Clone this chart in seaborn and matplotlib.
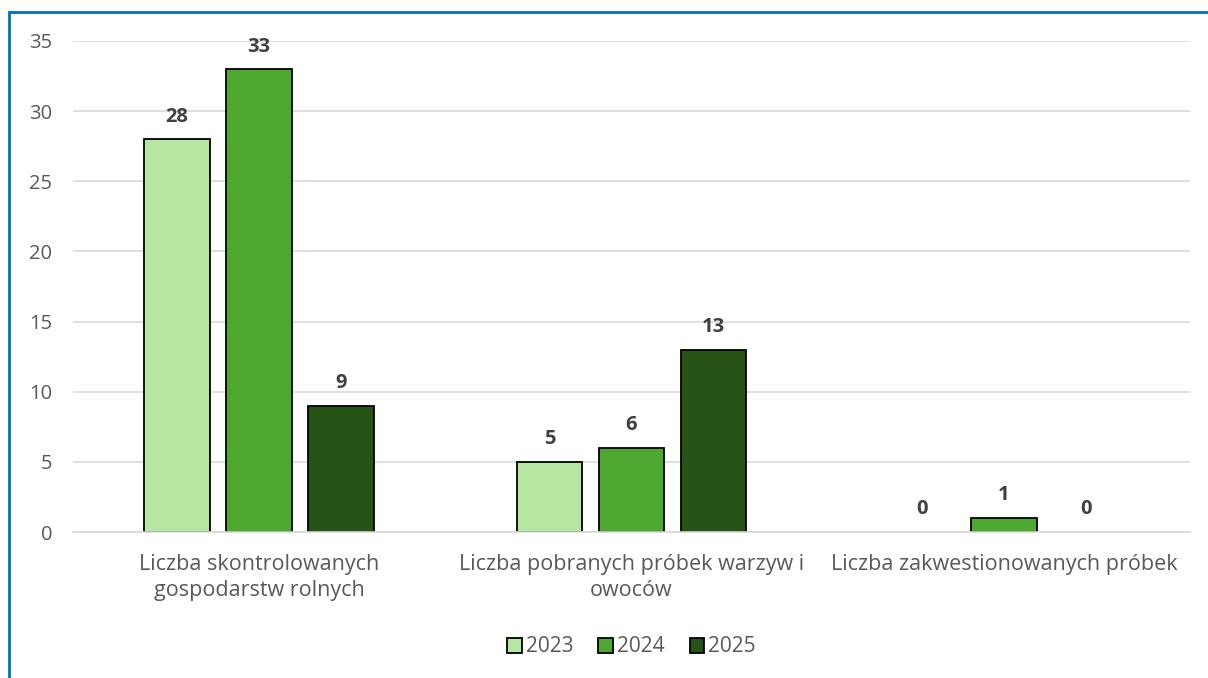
import pandas as pd
import matplotlib.pyplot as plt
import seaborn as sns
from matplotlib.patches import Rectangle

# dane
categories = ['Liczba skontrolowanych\ngospodarstw rolnych',
              'Liczba pobranych próbek warzyw i\nowoców',
              'Liczba zakwestionowanych próbek']
years = ['2023', '2024', '2025']
values_2023 = [28, 5, 0]
values_2024 = [33, 6, 1]
values_2025 = [9, 13, 0]
colors = ['#B5E6A2', '#4EA72E', '#275317']

df = pd.DataFrame({
    'kategoria': categories * 3,
    'rok': [y for y in years for _ in categories],
    'wartosc': values_2023 + values_2024 + values_2025,
})

sns.set_style("white")
plt.rcParams['font.family'] = ['Open Sans', 'DejaVu Sans']

fig = plt.figure(figsize=(12.08, 6.78), dpi=100)
ax = fig.add_axes([73 / 1208, 1 - 532 / 678, (1190 - 73) / 1208, (532 - 41) / 678])

sns.barplot(data=df, x='kategoria', y='wartosc', hue='rok', palette=colors,
            width=0.66, gap=0.2, edgecolor='black', linewidth=1.3, ax=ax,
            errorbar=None, saturation=1)

# słupki o wartości 0 bez obramowania
for cont in ax.containers:
    for p in cont.patches:
        if p.get_height() == 0:
            p.set_linewidth(0)

# etykiety nad słupkami
for cont in ax.containers:
    labels = [f'{int(v)}' for v in cont.datavalues]
    ax.bar_label(cont, labels=labels, padding=9, fontsize=14.5,
                 fontweight='bold', color='#404040')

ax.set_ylim(0, 35)
ax.set_xlim(-0.5, 2.5)
ax.set_yticks(range(0, 36, 5))
ax.yaxis.grid(True, color='#D9D9D9', linewidth=1.2)
ax.set_axisbelow(True)
ax.set_xlabel('')
ax.set_ylabel('')

for side in ['top', 'right', 'left']:
    ax.spines[side].set_visible(False)
ax.spines['bottom'].set_color('#D9D9D9')
ax.spines['bottom'].set_linewidth(1.2)

ax.tick_params(axis='x', which='major', length=0, pad=16, labelsize=15.5, labelcolor='#595959')
ax.tick_params(axis='y', length=0, pad=15, labelsize=14.5, labelcolor='#595959')
ax.set_xticks([-0.5, 0.5, 1.5, 2.5], minor=True)
ax.tick_params(axis='x', which='minor', length=7, color='#D9D9D9', width=1.2)
for lab in ax.get_xticklabels():
    lab.set_linespacing(1.3)

leg = ax.legend(loc='center', bbox_to_anchor=(0.5, (532 - 647) / 491), ncol=3,
                frameon=False, fontsize=15, handlelength=0.7, handleheight=0.7,
                handletextpad=0.2, columnspacing=1.2, labelcolor='#595959')
for h in leg.legend_handles:
    h.set_edgecolor('black')
    h.set_linewidth(1.3)

# ramka wykresu
fig.patches.append(Rectangle((9 / 1208, -0.1), 1.2, 1 - 12 / 678 + 0.1,
                             transform=fig.transFigure, fill=False,
                             edgecolor='#0070C0', linewidth=2))

plt.savefig('out.png', dpi=100)
